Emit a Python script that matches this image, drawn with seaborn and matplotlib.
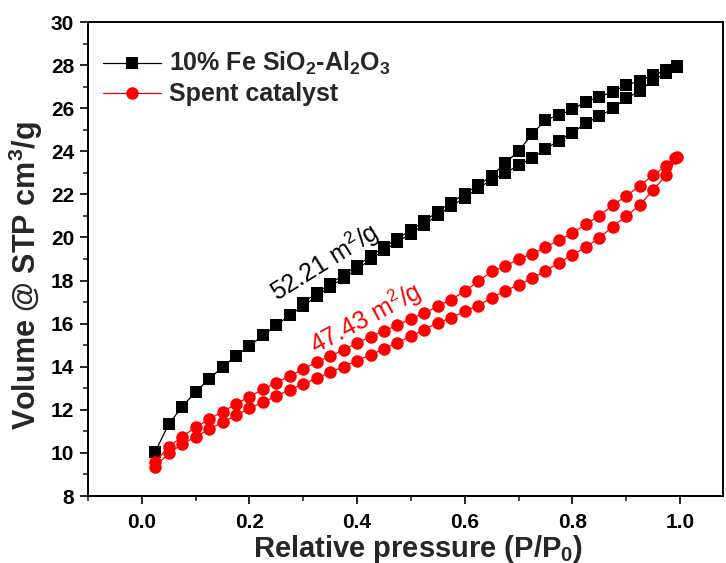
import numpy as np
import pandas as pd
import matplotlib
matplotlib.use("Agg")
import matplotlib.pyplot as plt
import seaborn as sns
from matplotlib.ticker import MultipleLocator

# N2 isotherms: relative pressure (P/P0) and adsorbed volume (cm3/g STP)
fe_ads_p = [0.025, 0.05, 0.075, 0.1, 0.125, 0.15, 0.175, 0.2, 0.225, 0.25,
            0.275, 0.3, 0.325, 0.35, 0.375, 0.4, 0.425, 0.45, 0.475, 0.5,
            0.525, 0.55, 0.575, 0.6, 0.625, 0.65, 0.675, 0.7, 0.725, 0.75,
            0.775, 0.8, 0.825, 0.85, 0.875, 0.9, 0.925, 0.95, 0.975, 0.995]
fe_ads_v = [10.06, 11.34, 12.14, 12.84, 13.42, 14.0, 14.5, 14.96, 15.45, 15.92,
            16.4, 16.82, 17.28, 17.72, 18.12, 18.52, 18.98, 19.4, 19.8, 20.18,
            20.6, 21.05, 21.45, 21.85, 22.28, 22.68, 22.97, 23.36, 23.67, 24.1,
            24.5, 24.86, 25.3, 25.62, 25.99, 26.45, 26.8, 27.3, 27.64, 27.9]
fe_des_p = [0.995, 0.975, 0.95, 0.925, 0.9, 0.875, 0.85, 0.825, 0.8, 0.775,
            0.75, 0.725, 0.7, 0.675, 0.65, 0.625, 0.6, 0.575, 0.55, 0.525,
            0.5, 0.475, 0.45, 0.425, 0.4, 0.375, 0.35, 0.325, 0.3]
fe_des_v = [27.95, 27.76, 27.54, 27.27, 27.07, 26.76, 26.53, 26.3, 25.94, 25.68,
            25.45, 24.78, 24.02, 23.44, 22.85, 22.43, 22.02, 21.62, 21.2, 20.75,
            20.33, 19.95, 19.55, 19.13, 18.68, 18.27, 17.85, 17.42, 16.97]

spent_ads_p = fe_ads_p
spent_ads_v = [9.36, 9.98, 10.41, 10.75, 11.10, 11.42, 11.74, 12.07, 12.35, 12.64,
               12.93, 13.2, 13.46, 13.74, 14.0, 14.28, 14.55, 14.83, 15.12, 15.42,
               15.72, 16.04, 16.27, 16.58, 16.84, 17.2, 17.52, 17.8, 18.1, 18.45,
               18.82, 19.2, 19.55, 19.98, 20.5, 20.98, 21.5, 22.2, 22.9, 23.72]
spent_des_p = [0.99, 0.975, 0.95, 0.925, 0.9, 0.875, 0.85, 0.825, 0.8, 0.775,
               0.75, 0.725, 0.7, 0.675, 0.65, 0.625, 0.6, 0.575, 0.55, 0.525,
               0.5, 0.475, 0.45, 0.425, 0.4, 0.375, 0.35, 0.325, 0.3, 0.275,
               0.25, 0.225, 0.2, 0.175, 0.15, 0.125, 0.1, 0.075, 0.05, 0.025]
spent_des_v = [23.67, 23.31, 22.9, 22.39, 21.92, 21.5, 21.0, 20.62, 20.19, 19.88,
               19.54, 19.23, 18.99, 18.66, 18.42, 17.96, 17.5, 17.12, 16.8, 16.5,
               16.23, 15.92, 15.67, 15.39, 15.11, 14.78, 14.48, 14.23, 13.88, 13.57,
               13.26, 12.95, 12.61, 12.27, 11.91, 11.56, 11.19, 10.75, 10.29, 9.59]

samples = ["10% Fe SiO$_\\mathbf{2}$-Al$_\\mathbf{2}$O$_\\mathbf{3}$", "Spent catalyst"]
colors = ["#000000", "#ff0000"]
markers = ["s", "o"]
bet_labels = ["52.21 m$^2$/g", "47.43 m$^2$/g"]

plt.rcParams["mathtext.fontset"] = "custom"
plt.rcParams["mathtext.rm"] = "Liberation Sans"
plt.rcParams["mathtext.bf"] = "Liberation Sans:bold"
plt.rcParams["mathtext.it"] = "Liberation Sans:italic"

sns.set_style("ticks")
plt.rcParams["font.family"] = ["Liberation Sans", "DejaVu Sans"]

frames = []
for name, p_a, v_a, p_d, v_d in [
    (samples[0], fe_ads_p, fe_ads_v, fe_des_p, fe_des_v),
    (samples[1], spent_ads_p, spent_ads_v, spent_des_p, spent_des_v),
]:
    p = list(p_a) + list(p_d)
    v = list(v_a) + list(v_d)
    frames.append(pd.DataFrame({"P": p, "V": v, "sample": name, "step": range(len(p))}))
df = pd.concat(frames, ignore_index=True)

fig = plt.figure(figsize=(7.26, 5.63), dpi=100)
ax = fig.add_axes([88 / 726, 1 - 496 / 563, (723 - 88) / 726, (496 - 22) / 563])

sns.lineplot(data=df, x="P", y="V", hue="sample", style="sample",
             hue_order=samples, style_order=samples,
             palette=dict(zip(samples, colors)),
             markers=dict(zip(samples, markers)), dashes=False,
             sort=False, estimator=None, units="sample",
             markersize=9, markeredgewidth=0, linewidth=0.9,
             legend=True, ax=ax)

ax.set_xlim(-0.1, 1.08)
ax.set_ylim(8, 30)
ax.xaxis.set_minor_locator(MultipleLocator(0.1))
ax.yaxis.set_major_locator(MultipleLocator(2))
ax.yaxis.set_minor_locator(MultipleLocator(1))
ax.set_xticks([0.0, 0.2, 0.4, 0.6, 0.8, 1.0])
ax.set_xticklabels(["0.0", "0.2", "0.4", "0.6", "0.8", "1.0"])

for s in ax.spines.values():
    s.set_linewidth(1.4)
    s.set_color("black")
ax.tick_params(which="major", direction="out", length=6, width=1.2,
               labelsize=15, colors="black")
ax.tick_params(axis="y", which="major", pad=4)
ax.tick_params(axis="x", which="major", pad=6)
ax.tick_params(which="minor", direction="out", length=3.5, width=1.2)
for lab in ax.get_xticklabels() + ax.get_yticklabels():
    lab.set_fontweight("bold")

ax.set_xlabel("Relative pressure (P/P$_\\mathbf{0}$)", fontsize=21,
              fontweight="bold")
ax.xaxis.set_label_coords(0.52, -0.078)
ax.set_ylabel("Volume @ STP cm$^\\mathbf{3}$/g", fontsize=22,
              fontweight="bold")
ax.yaxis.set_label_coords(-0.068, 0.465)

handles, labels = ax.get_legend_handles_labels()
leg = ax.legend(handles=handles, labels=labels, loc="upper left",
                bbox_to_anchor=(0.0, 0.972), frameon=False,
                handlelength=2.3, handletextpad=0.35,
                borderaxespad=0.2, labelspacing=0.2,
                prop={"weight": "bold", "size": 18})

ax.text(0.34, 18.86, bet_labels[0], color=colors[0], fontsize=18,
        rotation=32, rotation_mode="anchor", ha="center", va="center")
ax.text(0.416, 16.26, bet_labels[1], color=colors[1], fontsize=18,
        rotation=28, rotation_mode="anchor", ha="center", va="center")

fig.savefig("out.png", dpi=100)
